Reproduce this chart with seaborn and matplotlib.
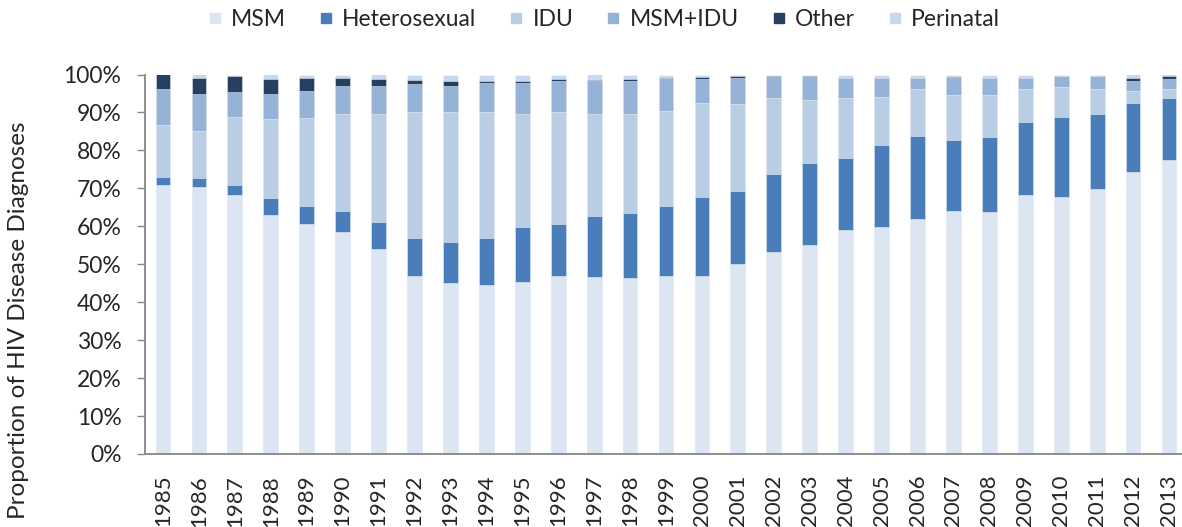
import numpy as np
import pandas as pd
import matplotlib
matplotlib.use("Agg")
import matplotlib.pyplot as plt
from matplotlib.lines import Line2D
from matplotlib.ticker import PercentFormatter
import seaborn as sns

years = [str(y) for y in range(1985, 2014)]

msm = [70.9, 70.4, 68.2, 62.9, 60.5, 58.6, 53.9, 46.9, 45.1, 44.6,
       45.3, 46.9, 46.6, 46.4, 46.8, 46.8, 50.1, 53.3, 55.2, 59.1,
       59.8, 62.0, 63.9, 63.8, 68.3, 67.8, 69.8, 74.3, 77.5]
heterosexual = [2.0, 2.2, 2.8, 4.6, 4.9, 5.4, 7.2, 9.9, 10.7, 12.2,
                14.4, 13.7, 16.0, 17.0, 18.5, 20.8, 19.1, 20.6, 21.4, 18.8,
                21.5, 21.7, 18.8, 19.6, 19.3, 21.0, 19.7, 18.2, 16.4]
idu = [13.9, 12.4, 17.8, 20.7, 23.2, 25.6, 28.6, 33.3, 34.3, 33.3,
       29.8, 29.4, 27.1, 26.3, 25.2, 24.8, 22.9, 19.8, 16.8, 16.0,
       12.9, 12.4, 11.8, 11.3, 8.5, 8.0, 6.6, 3.2, 2.4]
msm_idu = [9.3, 9.9, 6.6, 6.7, 7.1, 7.3, 7.2, 7.3, 7.0, 7.6,
           8.2, 8.3, 8.5, 8.5, 8.2, 6.5, 6.9, 5.6, 5.9, 5.1,
           4.8, 3.1, 4.5, 4.3, 2.9, 2.7, 3.4, 2.5, 2.4]
other = [3.9, 4.2, 4.1, 3.9, 3.3, 2.2, 1.9, 1.2, 1.1, 0.5,
         0.5, 0.4, 0.4, 0.6, 0.5, 0.5, 0.5, 0.4, 0.4, 0.2,
         0.2, 0.0, 0.3, 0.2, 0.2, 0.2, 0.2, 0.9, 0.9]
perinatal = [0.0, 0.9, 0.5, 1.2, 1.0, 0.9, 1.2, 1.4, 1.8, 1.8,
             1.8, 1.3, 1.4, 1.2, 0.8, 0.6, 0.5, 0.3, 0.3, 0.8,
             0.8, 0.8, 0.7, 0.8, 0.8, 0.3, 0.3, 0.9, 0.4]

categories = ["MSM", "Heterosexual", "IDU", "MSM+IDU", "Other", "Perinatal"]
series = [msm, heterosexual, idu, msm_idu, other, perinatal]
colors = ["#DCE6F2", "#4A7EBB", "#B9CDE5", "#95B3D7", "#254061", "#C6D9F1"]

df = pd.DataFrame({c: s for c, s in zip(categories, series)}, index=years)
cum = df.cumsum(axis=1) / 100.0

sns.set_style("white")
plt.rcParams["font.family"] = ["Lato", "DejaVu Sans"]

W, H = 1182, 527
fig = plt.figure(figsize=(W / 100, H / 100), dpi=100)
left, right, top, bottom = 145, 1187, 74.5, 454
ax = fig.add_axes([left / W, 1 - bottom / H, (right - left) / W, (bottom - top) / H])

# Stacked bars: draw cumulative totals from the top layer down
for cat, col in reversed(list(zip(categories, colors))):
    plot_df = pd.DataFrame({"year": years, "value": cum[cat].values})
    sns.barplot(data=plot_df, x="year", y="value", color=col, width=0.41,
                saturation=1, edgecolor=(1, 1, 1, 0.45), linewidth=0.7, ax=ax)

ax.set_xlim(-0.5, len(years) - 0.5)
ax.set_ylim(0, 1)
ax.set_yticks(np.arange(0, 1.01, 0.1))
ax.yaxis.set_major_formatter(PercentFormatter(1.0, decimals=0))
ax.set_xlabel("")
ax.set_ylabel("")

for side in ["top", "right"]:
    ax.spines[side].set_visible(False)
for side in ["left", "bottom"]:
    ax.spines[side].set_color("#868686")
    ax.spines[side].set_linewidth(1.3)

ax.tick_params(axis="y", direction="out", length=6, width=1.0, color="#868686",
               labelsize=16.5, pad=11, left=True)
ax.tick_params(axis="x", length=0, labelsize=16, pad=15, labelrotation=90)
for lbl in ax.get_xticklabels():
    lbl.set_va("top")

fig.text(19 / W, 1 - 320 / H, "Proportion of HIV Disease Diagnoses",
         rotation=90, ha="center", va="center", fontsize=17.5)

handles = [Line2D([0], [0], marker="s", linestyle="none", markersize=7.5,
                  markerfacecolor=c, markeredgecolor=c) for c in colors]
fig.legend(handles, categories, loc="center", bbox_to_anchor=(604 / W, 1 - 20 / H),
           ncol=6, frameon=False, fontsize=16.5, handlelength=0.6,
           handletextpad=0.4, columnspacing=1.45)

fig.savefig("out.png", dpi=100)
